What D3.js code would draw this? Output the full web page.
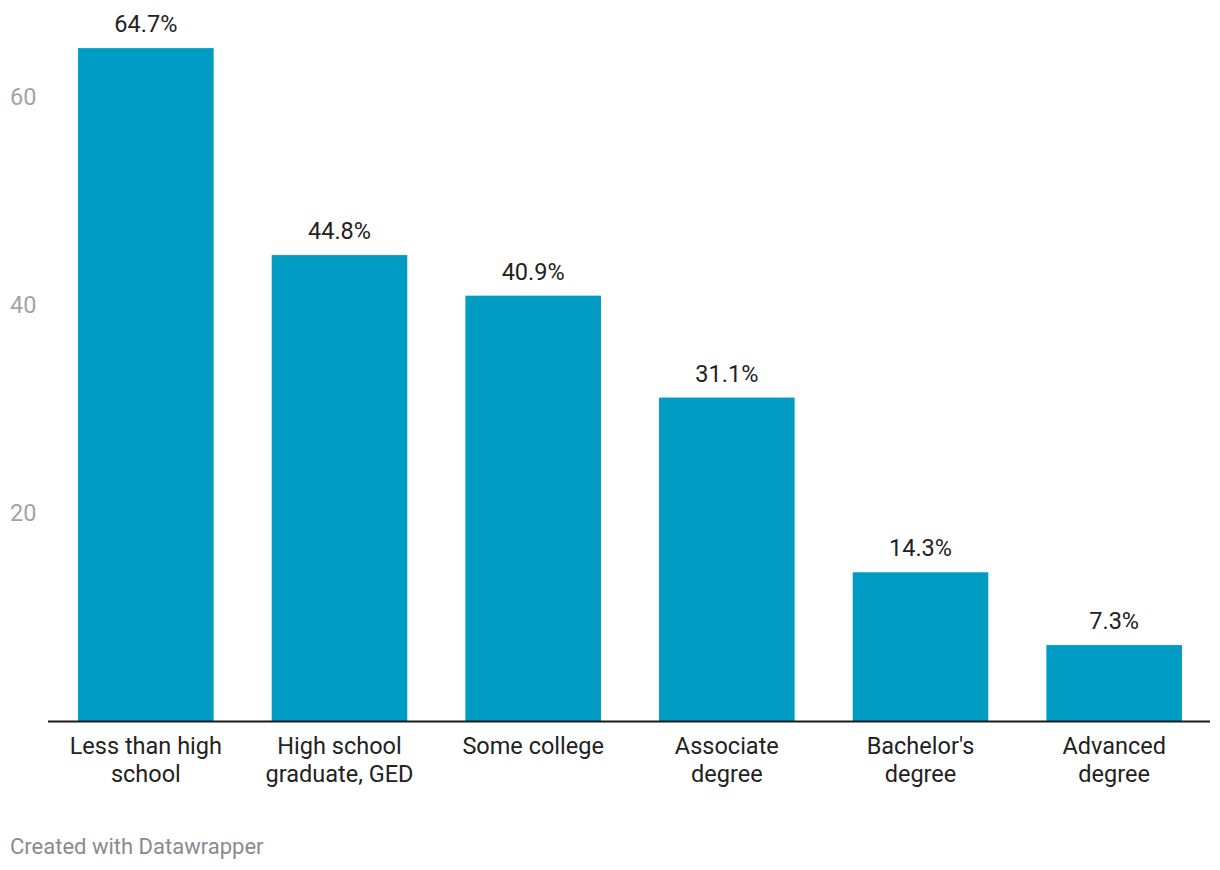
<!DOCTYPE html>
<html>
<head>
<meta charset="utf-8">
<script src="https://cdn.jsdelivr.net/npm/d3@7"></script>
<style>
  html, body { margin: 0; padding: 0; background: #fff; }
  svg { display: block; font-family: Roboto, "Noto Sans", sans-serif; }
</style>
</head>
<body>
<svg id="chart" width="1220" height="870"></svg>
<script>
const categories = [
  "Less than high school",
  "High school graduate, GED",
  "Some college",
  "Associate degree",
  "Bachelor's degree",
  "Advanced degree"
];
const categoryLines = [
  ["Less than high", "school"],
  ["High school", "graduate, GED"],
  ["Some college"],
  ["Associate", "degree"],
  ["Bachelor's", "degree"],
  ["Advanced", "degree"]
];
const values = [64.7, 44.8, 40.9, 31.1, 14.3, 7.3];
const yTicks = [20, 40, 60];
const footer = "Created with Datawrapper";

const svg = d3.select("#chart");
const data = categories.map((c, i) => ({ c, v: values[i], lines: categoryLines[i] }));

const x = d3.scaleBand().domain(categories).range([49, 1211]).paddingInner(0.3).paddingOuter(0.15);
const y = d3.scaleLinear().domain([0, 60]).range([721, 97]);

// y tick labels
svg.append("g").selectAll("text").data(yTicks).join("text")
  .attr("x", 10).attr("y", d => y(d)).attr("dy", "0.35em")
  .attr("fill", "#a3a3a3").attr("font-size", 23.5).text(d => d);

// bars
svg.append("g").selectAll("rect").data(data).join("rect")
  .attr("x", d => x(d.c)).attr("width", x.bandwidth())
  .attr("y", d => y(d.v)).attr("height", d => y(0) - y(d.v))
  .attr("fill", "#019cc4");

// value labels
svg.append("g").selectAll("text").data(data).join("text")
  .attr("x", d => x(d.c) + x.bandwidth() / 2).attr("y", d => y(d.v) - 16)
  .attr("text-anchor", "middle").attr("fill", "#222").attr("font-size", 23.5)
  .text(d => d.v.toFixed(1) + "%");

// baseline
svg.append("line").attr("x1", 48).attr("x2", 1210)
  .attr("y1", y(0) + 0.5).attr("y2", y(0) + 0.5)
  .attr("stroke", "#1a1a1a").attr("stroke-width", 2);

// category labels
const cl = svg.append("g").selectAll("text").data(data).join("text")
  .attr("x", d => x(d.c) + x.bandwidth() / 2).attr("y", 754)
  .attr("text-anchor", "middle").attr("fill", "#222").attr("font-size", 23.5);
cl.selectAll("tspan").data(d => d.lines.map(l => ({ l, cx: x(d.c) + x.bandwidth() / 2 }))).join("tspan")
  .attr("x", d => d.cx).attr("dy", (d, i) => i === 0 ? 0 : 28).text(d => d.l);

// footer
svg.append("text").attr("x", 10).attr("y", 854).attr("fill", "#8a8a8a").attr("font-size", 22).text(footer);
</script>
</body>
</html>
